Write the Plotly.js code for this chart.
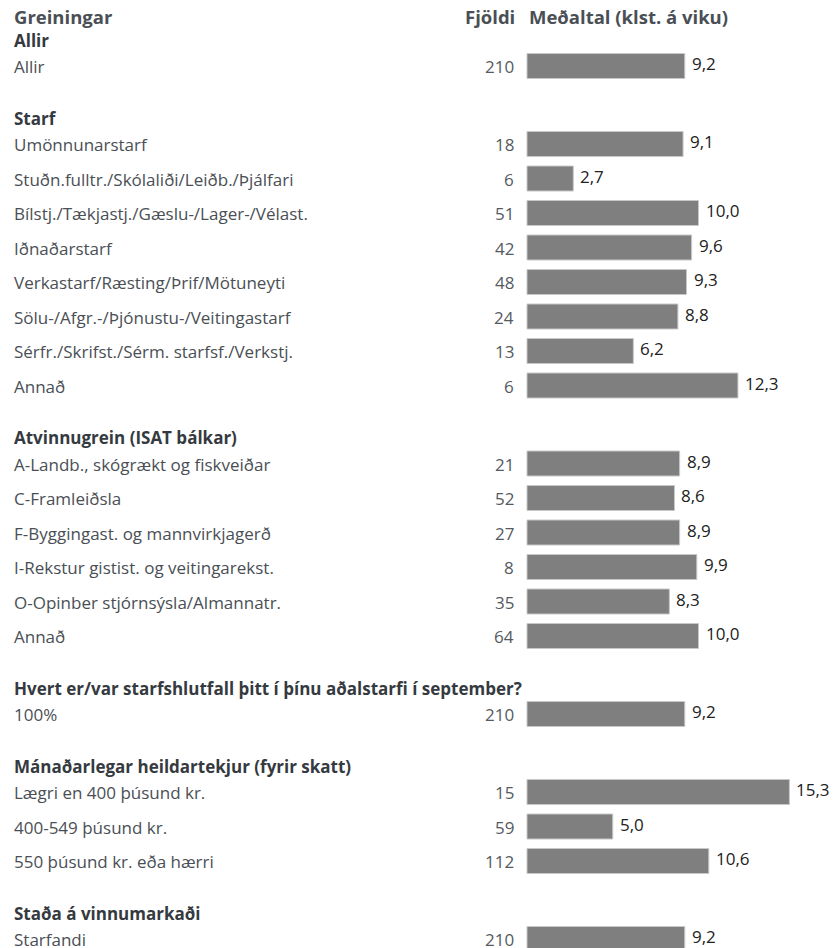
<!DOCTYPE html>
<html>
<head>
<meta charset="utf-8">
<script src="https://cdn.plot.ly/plotly-3.0.1.min.js"></script>
<style>html,body{margin:0;padding:0;background:#fff}#chart{width:833px;height:948px}</style>
</head>
<body>
<div id="chart"></div>
<script>
// ---- data ----
const groupNames = [
  "Allir",
  "Starf",
  "Atvinnugrein (ISAT bálkar)",
  "Hvert er/var starfshlutfall þitt í þínu aðalstarfi í september?",
  "Mánaðarlegar heildartekjur (fyrir skatt)",
  "Staða á vinnumarkaði"
];
const groupItems = [
  ["Allir"],
  ["Umönnunarstarf", "Stuðn.fulltr./Skólaliði/Leiðb./Þjálfari", "Bílstj./Tækjastj./Gæslu-/Lager-/Vélast.",
   "Iðnaðarstarf", "Verkastarf/Ræsting/Þrif/Mötuneyti", "Sölu-/Afgr.-/Þjónustu-/Veitingastarf",
   "Sérfr./Skrifst./Sérm. starfsf./Verkstj.", "Annað"],
  ["A-Landb., skógrækt og fiskveiðar", "C-Framleiðsla", "F-Byggingast. og mannvirkjagerð",
   "I-Rekstur gistist. og veitingarekst.", "O-Opinber stjórnsýsla/Almannatr.", "Annað"],
  ["100%"],
  ["Lægri en 400 þúsund kr.", "400-549 þúsund kr.", "550 þúsund kr. eða hærri"],
  ["Starfandi"]
];
const groupCounts = [
  [210],
  [18, 6, 51, 42, 48, 24, 13, 6],
  [21, 52, 27, 8, 35, 64],
  [210],
  [15, 59, 112],
  [210]
];
const groupValues = [
  [9.2],
  [9.1, 2.7, 10.0, 9.6, 9.3, 8.8, 6.2, 12.3],
  [8.9, 8.6, 8.9, 9.9, 8.3, 10.0],
  [9.2],
  [15.3, 5.0, 10.6],
  [9.2]
];
const headerLabel = "Greiningar";
const countHeader = "Fjöldi";
const valueHeader = "Meðaltal (klst. á viku)";

// ---- layout constants ----
const W = 833, H = 948;
const zeroPx = 527, pxPerUnit = 17.15;
const headerY = 16, firstGroupY = 40, headToItem = 26, rowStep = 34.5, groupGap = 52;
const FONT = "'Open Sans', sans-serif";
const FS = 17, FSB = 17, FSH = 18.5;
const labelColor = "#4a4f55", headColor = "#353a40", countColor = "#555a5f", valColor = "#222";

const annotations = [];
const barY = [], barX = [];
function ann(o) { annotations.push(Object.assign({showarrow: false, yanchor: "middle", xref: "x", yref: "y"}, o)); }

const leftX = -zeroPx/pxPerUnit + 12/pxPerUnit;
ann({x: leftX, y: headerY, text: "<b>" + headerLabel + "</b>", xanchor: "left",
     font: {family: FONT, size: FSH, color: labelColor}});
ann({x: 0, xshift: -10, y: headerY, text: "<b>" + countHeader + "</b>", xanchor: "right",
     font: {family: FONT, size: FSH, color: labelColor}});
ann({x: 0, y: headerY, text: "<b>" + valueHeader + "</b>", xanchor: "left",
     font: {family: FONT, size: FSH, color: labelColor}});

let y = firstGroupY;
groupNames.forEach((g, gi) => {
  ann({x: leftX, y: y, text: "<b>" + g + "</b>", xanchor: "left", font: {family: FONT, size: FSB, color: headColor}});
  let iy = y + headToItem;
  groupItems[gi].forEach((it, ii) => {
    const ty = iy + 0.5;
    ann({x: leftX, y: ty, text: it, xanchor: "left", font: {family: FONT, size: FS, color: labelColor}});
    ann({x: 0, xshift: -11, y: ty, text: String(groupCounts[gi][ii]), xanchor: "right",
         font: {family: FONT, size: FS, color: countColor}});
    const v = groupValues[gi][ii];
    ann({x: v, xshift: 5, y: ty - 3, text: v.toFixed(1).replace(".", ","), xanchor: "left",
         font: {family: FONT, size: FS, color: valColor}});
    barY.push(iy); barX.push(v);
    if (ii < groupItems[gi].length - 1) iy += rowStep;
  });
  y = iy + groupGap;
});

const trace = {
  type: "bar", orientation: "h", x: barX, y: barY, width: 25,
  marker: {color: "#7f7f7f", line: {color: "#c8c8c8", width: 1}},
  hoverinfo: "none"
};

const layout = {
  width: W, height: H, margin: {l: 0, r: 0, t: 0, b: 0},
  paper_bgcolor: "#fff", plot_bgcolor: "#fff", showlegend: false,
  xaxis: {range: [-zeroPx/pxPerUnit, (W - zeroPx)/pxPerUnit], visible: false, fixedrange: true},
  yaxis: {range: [H, 0], visible: false, fixedrange: true},
  annotations: annotations
};
Plotly.newPlot("chart", [trace], layout, {displayModeBar: false, staticPlot: true});
</script>
</body>
</html>
